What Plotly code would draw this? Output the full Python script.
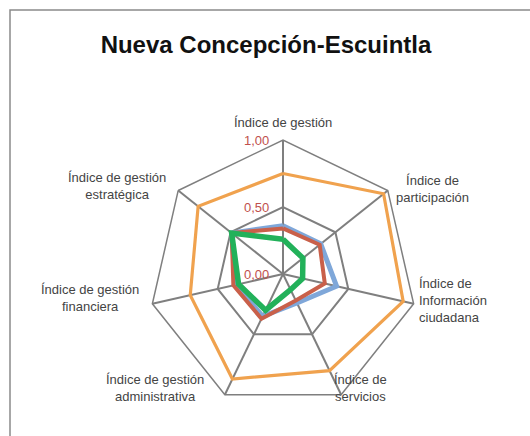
import plotly.graph_objects as go

categories = ["Índice de gestión", "Índice de participación", "Índice de Información ciudadana",
              "Índice de servicios", "Índice de gestión administrativa", "Índice de gestión financiera",
              "Índice de gestión estratégica"]
label_text = ["Índice de gestión", "Índice de<br>participación", "Índice de<br>Información<br>ciudadana",
              "Índice de<br>servicios", "Índice de gestión<br>administrativa", "Índice de gestión<br>financiera",
              "Índice de gestión<br>estratégica"]

orange_vals = [0.75, 0.96, 0.92, 0.80, 0.87, 0.71, 0.81]
blue_vals = [0.36, 0.36, 0.41, 0.24, 0.35, 0.36, 0.49]
red_vals = [0.34, 0.35, 0.32, 0.22, 0.37, 0.38, 0.49]
green_vals = [0.26, 0.19, 0.15, 0.13, 0.30, 0.34, 0.49]

tick_vals = [0, 0.5, 1.0]
tick_text = ["0,00", "0,50", "1,00"]

series = [
    ("Orange", orange_vals, "#F0A24E", 3.2),
    ("Blue", blue_vals, "#7FA7D9", 5),
    ("Red", red_vals, "#C9604A", 4),
    ("Green", green_vals, "#22B15A", 5.5),
]

fig = go.Figure()
for name, vals, color, w in series:
    fig.add_trace(go.Scatterpolar(
        r=vals + vals[:1], theta=categories + categories[:1], mode="lines",
        line=dict(color=color, width=w), name=name, showlegend=False, hoverinfo="skip"))

W, H = 530, 436
cx, cy, R = 283, 274, 134

label_pos = [(283, 122, "center"), (432, 189, "center"), (417, 300, "left"), (360, 388, "center"),
             (155, 388, "center"), (90, 298, "center"), (117, 186, "center")]
annotations = []
for txt, (px, py, al) in zip(label_text, label_pos):
    annotations.append(dict(text=txt, x=px / W, y=1 - py / H, xref="paper", yref="paper",
                            xanchor="left" if al == "left" else "center", yanchor="middle",
                            align=al, showarrow=False,
                            font=dict(size=13, color="#444444", family="Liberation Sans, Arial")))

# radial tick labels along the top spoke (left of it), at the ring levels
for v, t in zip(tick_vals, tick_text):
    annotations.append(dict(text=t, x=(cx - 12) / W, y=1 - (cy - v * R) / H, xref="paper", yref="paper",
                            xanchor="right", yanchor="middle", showarrow=False,
                            font=dict(size=13, color="#C0504D", family="Liberation Sans, Arial")))

fig.update_layout(
    width=W, height=H, margin=dict(l=0, r=0, t=0, b=0),
    paper_bgcolor="white", plot_bgcolor="white",
    font=dict(family="Liberation Sans, Arial", size=11, color="#333333"),
    title=dict(text="<b>Nueva Concepción-Escuintla</b>", x=266 / W, xanchor="center",
               y=1 - 45 / H, yanchor="middle",
               font=dict(size=24, color="#111111", family="Liberation Sans, Arial")),
    polar=dict(
        domain=dict(x=[(cx - R) / W, (cx + R) / W], y=[(H - cy - R) / H, (H - cy + R) / H]),
        gridshape="linear", bgcolor="white",
        radialaxis=dict(range=[0, 1], tickvals=tick_vals, angle=90, showticklabels=False,
                        showline=False, gridcolor="#7f7f7f", gridwidth=1.5, ticks=""),
        angularaxis=dict(direction="clockwise", rotation=90, gridcolor="#7f7f7f", gridwidth=1.5,
                         linecolor="#7f7f7f", linewidth=1.5, ticks="", showticklabels=False),
    ),
    annotations=annotations,
    shapes=[dict(type="rect", xref="paper", yref="paper", x0=10 / W, x1=1.05,
                 y0=-0.05, y1=1 - 10 / H, line=dict(color="#8a8a8a", width=1.5))],
)

fig.write_html("out.html", config={"displayModeBar": False},
               post_script="document.body.style.margin='0';document.body.style.overflow='hidden';")
